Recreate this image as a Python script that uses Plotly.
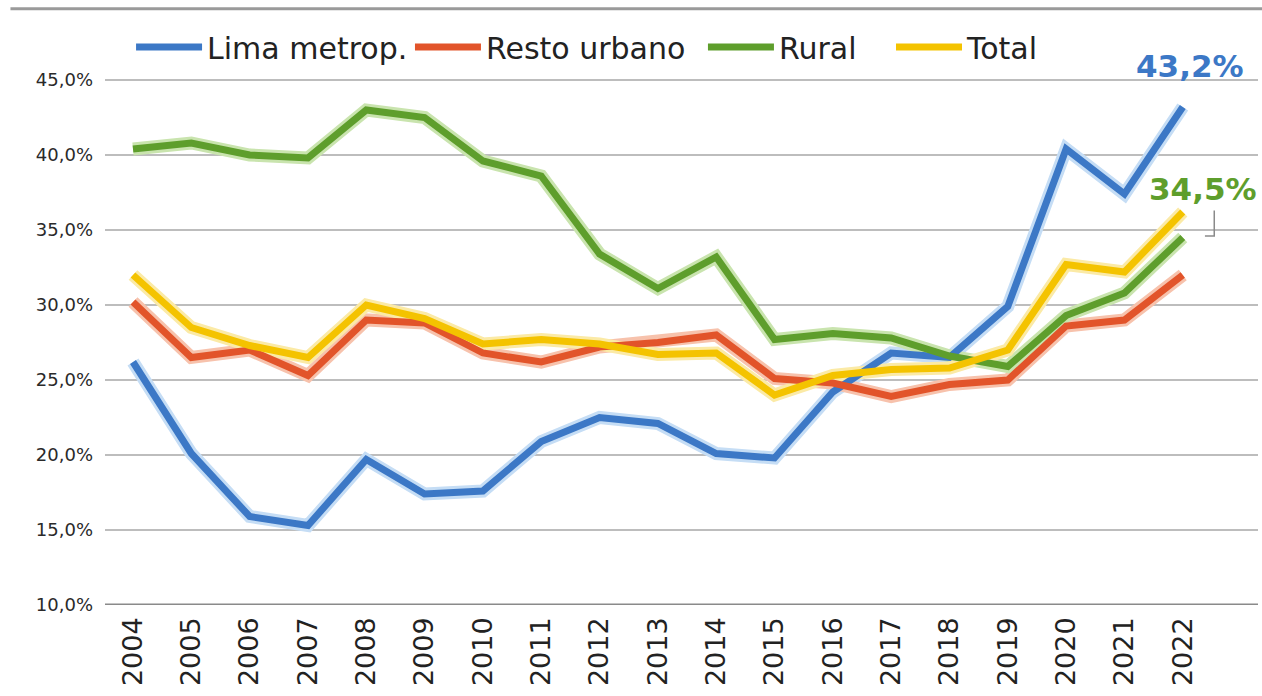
import plotly.graph_objects as go

years = list(range(2004, 2023))
lima = [26.2, 20.1, 15.9, 15.3, 19.7, 17.4, 17.6, 20.9, 22.5, 22.1, 20.1, 19.8, 24.2, 26.8, 26.5, 29.9, 40.4, 37.4, 43.2]
resto = [30.2, 26.5, 27.0, 25.3, 29.0, 28.8, 26.8, 26.2, 27.2, 27.5, 28.0, 25.1, 24.8, 23.9, 24.7, 25.0, 28.6, 29.0, 32.0]
rural = [40.4, 40.8, 40.0, 39.8, 43.0, 42.5, 39.6, 38.6, 33.4, 31.1, 33.2, 27.7, 28.1, 27.8, 26.6, 25.9, 29.3, 30.8, 34.5]
total = [32.0, 28.5, 27.3, 26.5, 30.0, 29.1, 27.4, 27.7, 27.4, 26.7, 26.8, 24.0, 25.3, 25.7, 25.8, 27.0, 32.7, 32.2, 36.2]

names = ["Lima metrop.", "Resto urbano", "Rural", "Total"]
series = [lima, resto, rural, total]
colors = ["#3C78C6", "#E2542A", "#5E9E2C", "#F4C300"]
halos = ["#C5DDF5", "#F7C2AC", "#C9E4AE", "#FBEAA6"]
legend_ids = ["legend", "legend2", "legend3", "legend4"]
legend_x = [0.0226, 0.2645, 0.5186, 0.6817]
ytick_vals = [10, 15, 20, 25, 30, 35, 40, 45]

fig = go.Figure()
for name, vals, c, h in zip(names, series, colors, halos):
    fig.add_trace(go.Scatter(x=years, y=vals, mode="lines", showlegend=False,
                             line=dict(color=h, width=13), hoverinfo="skip"))
for name, vals, c, lg in zip(names, series, colors, legend_ids):
    fig.add_trace(go.Scatter(x=years, y=vals, mode="lines", name=name, legend=lg,
                             line=dict(color=c, width=7)))

fig.add_annotation(x=years[-1], y=lima[-1], text="<b>43,2%</b>", showarrow=False,
                   xanchor="center", yanchor="bottom", xshift=7, yshift=21,
                   font=dict(family="DejaVu Sans", size=31, color="#3C78C6"))
fig.add_annotation(x=years[-1], y=rural[-1], text="<b>34,5%</b>", showarrow=False,
                   xanchor="center", yanchor="bottom", xshift=20, yshift=29,
                   font=dict(family="DejaVu Sans", size=31, color="#5E9E2C"))
# small bracket from label to rural end point
fig.add_shape(type="path", xref="x", yref="y",
              path=f"M {years[-1]+0.38},{rural[-1]+0.1} L {years[-1]+0.54},{rural[-1]+0.1} L {years[-1]+0.54},{rural[-1]+1.8}",
              line=dict(color="#8A8A8A", width=1.5))
# top rule
fig.add_shape(type="line", xref="paper", yref="paper", x0=-0.082, x1=1.01, y0=1.046, y1=1.046,
              line=dict(color="#9A9A9A", width=3))

legend_style = dict(orientation="h", y=0.979, xanchor="left", yanchor="middle",
                    font=dict(family="DejaVu Sans", size=30, color="#222222"),
                    bgcolor="rgba(0,0,0,0)", itemwidth=66)
layout_legends = {lg: dict(x=lx, **legend_style) for lg, lx in zip(legend_ids, legend_x)}

fig.update_layout(
    width=1262, height=696,
    margin=dict(l=105, r=4, t=35, b=91),
    paper_bgcolor="white", plot_bgcolor="white",
    separators=",.",
    font=dict(family="DejaVu Sans", color="#2A2A2A"),
    xaxis=dict(range=[2003.52, 2023.29], tickmode="array", tickvals=years,
               ticktext=[str(y) for y in years], tickangle=-90, showgrid=False,
               tickfont=dict(family="DejaVu Sans", size=27, color="#222222"), ticks="",
               zeroline=False, showline=False, ticklabelstandoff=6),
    yaxis=dict(range=[10, 48], tickmode="array", tickvals=ytick_vals,
               ticktext=[f"{v:.1f}".replace(".", ",") + "%" for v in ytick_vals],
               showgrid=True, gridcolor="#BDBDBD", gridwidth=1.5, zeroline=False,
               tickfont=dict(family="DejaVu Sans", size=18, color="#2A2A2A"), ticks="",
               ticklabelstandoff=11, showline=False),
    **layout_legends,
)
fig.add_shape(type="line", xref="paper", yref="y", x0=0, x1=1, y0=10, y1=10,
              line=dict(color="#8A8A8A", width=3), layer="above")

fig.write_html("out.html", config={"displayModeBar": False},
               post_script="document.body.style.margin='0px';")
